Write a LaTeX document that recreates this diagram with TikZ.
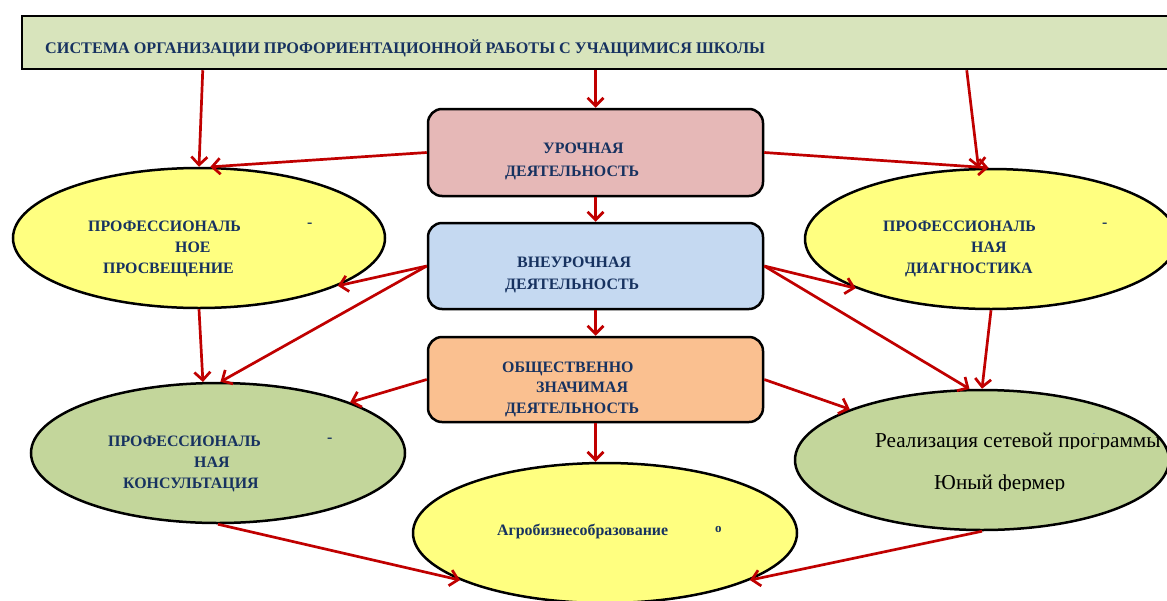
\documentclass[tikz,border=0pt]{standalone}
\usepackage{fontspec}
\setmainfont{Liberation Serif}
\usetikzlibrary{arrows.meta,shapes.geometric,calc}
\definecolor{navy}{RGB}{23,50,96}
\definecolor{arrred}{RGB}{192,0,0}
\definecolor{hdrfill}{RGB}{216,228,188}
\definecolor{ufill}{RGB}{230,184,183}
\definecolor{vfill}{RGB}{197,217,241}
\definecolor{ofill}{RGB}{250,192,144}
\definecolor{yfill}{RGB}{255,255,128}
\definecolor{gfill}{RGB}{195,214,155}
\definecolor{dashblue}{RGB}{40,70,160}
\begin{document}
\begin{tikzpicture}[x=1pt,y=-1pt,
  hdr/.style={draw=black,line width=2.5pt,fill=hdrfill,minimum width=1178pt,minimum height=53pt,inner sep=0pt},
  actbox/.style={draw=black,line width=2.5pt,rounded corners=14pt,minimum width=335pt,inner sep=0pt},
  ell/.style={ellipse,draw=black,line width=2.5pt,inner sep=0pt,minimum height=140pt},
  lbl/.style={font=\fontsize{15.9}{18}\selectfont\bfseries,text=navy,inner sep=0pt,anchor=base west},
  hlbl/.style={font=\fontsize{16.2}{18}\selectfont\bfseries,text=navy,inner sep=0pt,anchor=base west},
  rlbl/.style={font=\fontsize{21.2}{24}\selectfont,text=black,inner sep=0pt,anchor=base west},
  arr/.style={draw=arrred,line width=2.7pt,-{Straight Barb[length=8pt,width=16pt]}}]
\useasboundingbox (0,0) rectangle (1167,600);
\clip (0,0) rectangle (1167,600);
\fill[white] (0,0) rectangle (1167,600);

% header
\node[hdr] (H) at (611,42.5) {};
\node[hlbl] (Ht) at (45,53) {СИСТЕМА ОРГАНИЗАЦИИ ПРОФОРИЕНТАЦИОННОЙ РАБОТЫ С УЧАЩИМИСЯ ШКОЛЫ};

% activity boxes
\node[actbox,fill=ufill,minimum height=87pt] (U) at (595.5,152.5) {};
\node[actbox,fill=vfill,minimum height=86pt] (V) at (595.5,266) {};
\node[actbox,fill=ofill,minimum height=85pt] (O) at (595.5,379.5) {};
\node[lbl] (U1) at (543,153) {УРОЧНАЯ};
\node[lbl] (U2) at (505,176) {ДЕЯТЕЛЬНОСТЬ};
\node[lbl] (V1) at (517,267) {ВНЕУРОЧНАЯ};
\node[lbl] (V2) at (505,289) {ДЕЯТЕЛЬНОСТЬ};
\node[lbl] (O1) at (502,372) {ОБЩЕСТВЕННО};
\node[lbl] (O2) at (536,392) {ЗНАЧИМАЯ};
\node[lbl] (O3) at (505,413) {ДЕЯТЕЛЬНОСТЬ};

% ellipses
\node[ell,fill=yfill,minimum width=372pt] (P) at (199,238) {};
\node[ell,fill=yfill,minimum width=372pt] (D) at (991,239) {};
\node[ell,fill=gfill,minimum width=374pt] (K) at (218,453) {};
\node[ell,fill=gfill,minimum width=374pt] (R) at (982,460) {};
\node[ell,fill=yfill,minimum width=384pt] (A) at (605,533) {};

\node[lbl] (P1) at (88,231) {ПРОФЕССИОНАЛЬ};
\node[lbl] (P2) at (175,252) {НОЕ};
\node[lbl] (P3) at (103,273) {ПРОСВЕЩЕНИЕ};
\node[lbl] (Pd) at (307,227) {-};

\node[lbl] (D1) at (883,231) {ПРОФЕССИОНАЛЬ};
\node[lbl] (D2) at (971,252) {НАЯ};
\node[lbl] (D3) at (905,273) {ДИАГНОСТИКА};
\node[lbl] (Dd) at (1102,227) {-};

\node[lbl] (K1) at (108,446) {ПРОФЕССИОНАЛЬ};
\node[lbl] (K2) at (194,467) {НАЯ};
\node[lbl] (K3) at (123,488) {КОНСУЛЬТАЦИЯ};
\node[lbl] (Kd) at (327,442) {-};

\begin{scope}
\clip (800,420) rectangle (1167,448.5);
\node[rlbl] (R1) at (875,447) {Реализация сетевой программы};
\end{scope}
\begin{scope}
\clip (900,465) rectangle (1100,490.5);
\node[rlbl] (R2) at (934,489) {Юный фермер};
\end{scope}
\node[font=\fontsize{7}{8}\selectfont\bfseries,text=dashblue,inner sep=0pt] (Rd) at (1094,435) {-};

\node[lbl] (A1) at (497,535) {Агробизнесобразование};
\node[lbl,font=\fontsize{13}{14}\selectfont\bfseries] (A2) at (715,532) {о};

% connectors
\draw[arr] ($(H.south west)+(182,0)$) -- (P.north);
\draw[arr] (U.north |- H.south) -- (U.north);
\draw[arr] ($(H.south west)+(946,0)$) -- (D.100);
\draw[arr] (U.west) -- (P.81);
\draw[arr] (U.east) -- (D.92);
\draw[arr] (U.south) -- (V.north);
\draw[arr] (V.west) -- (P.-19.5);
\draw[arr] (V.west) -- (K.88);
\draw[arr] (V.east) -- (D.200);
\draw[arr] (V.east) -- (R.100);
\draw[arr] (V.south) -- (O.north);
\draw[arr] (P.south) -- (K.102);
\draw[arr] (O.west) -- (K.21);
\draw[arr] (O.east) -- (R.159);
\draw[arr] (O.south) -- (O.south |- A.north);
\draw[arr] (K.south) -- (A.198);
\draw[arr] (R.south) -- (A.-18);
\draw[arr] (D.south) -- (R.north);
\end{tikzpicture}
\end{document}
